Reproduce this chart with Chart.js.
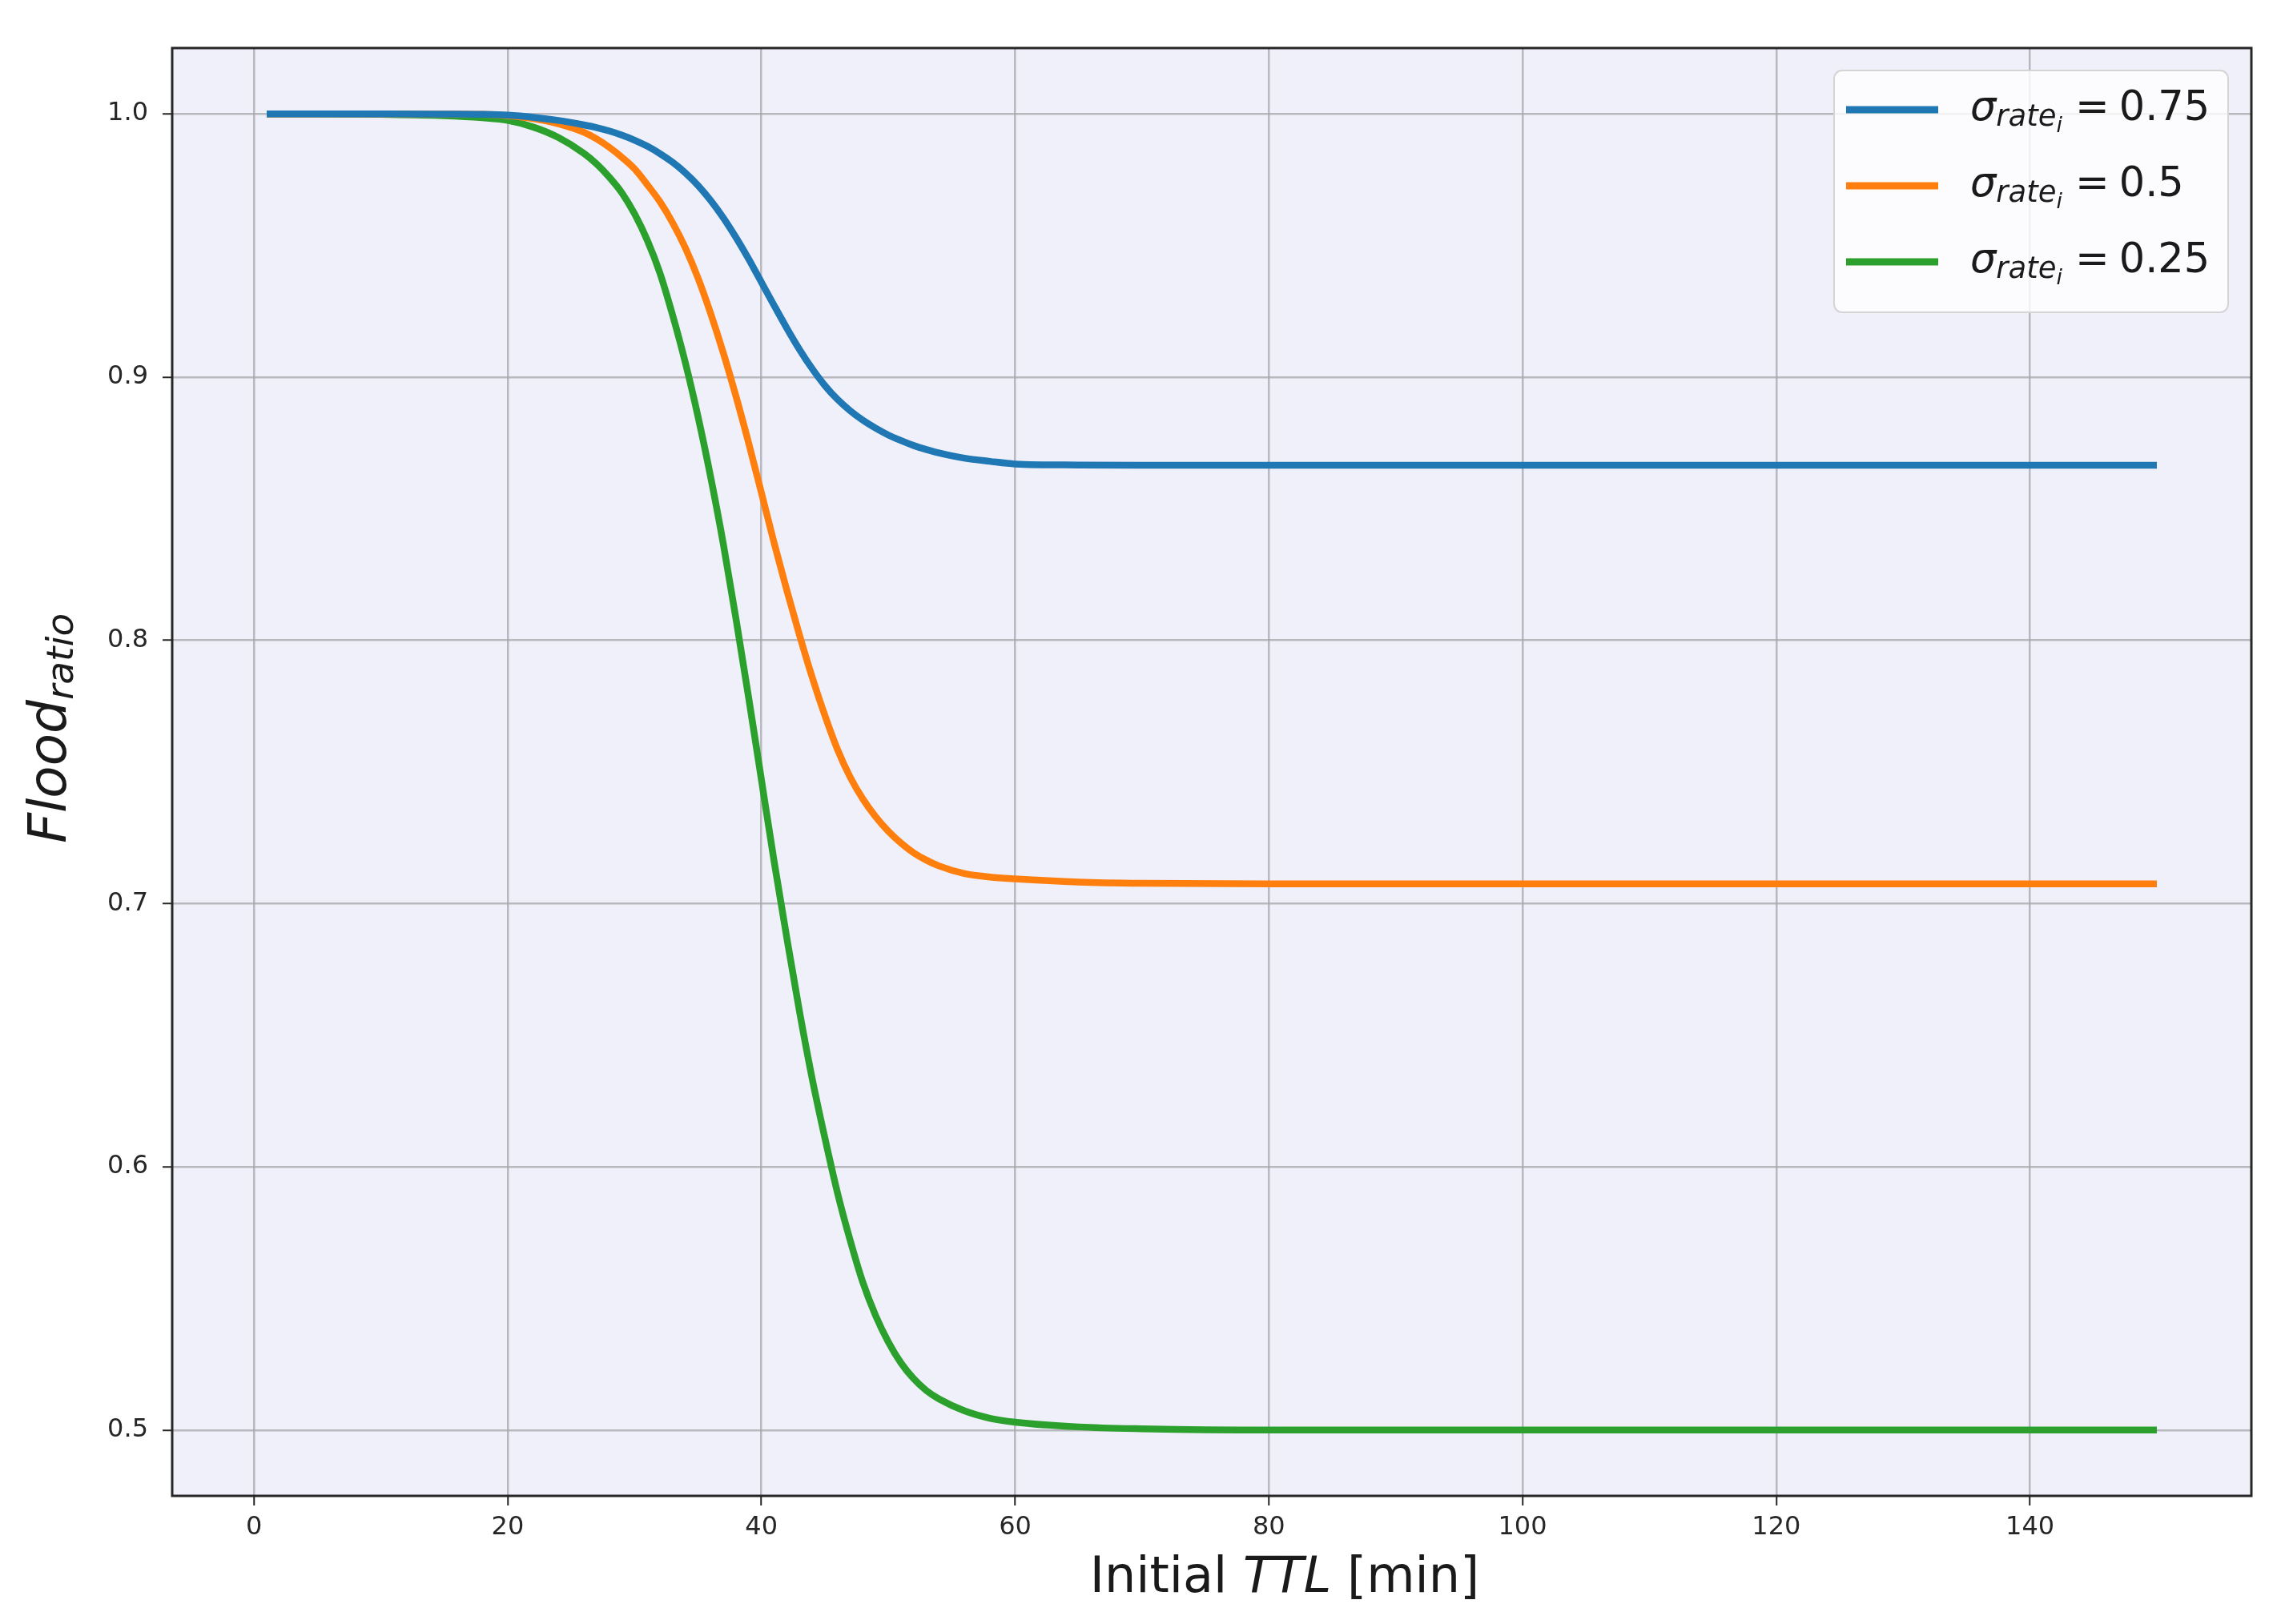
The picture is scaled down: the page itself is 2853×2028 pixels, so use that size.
<!DOCTYPE html>
<html>
<head>
<meta charset="utf-8">
<script src="https://cdn.jsdelivr.net/npm/chart.js@4.4.1/dist/chart.umd.min.js"></script>
<style>
  body { margin: 0; background: #ffffff; }
  canvas { display: block; }
</style>
</head>
<body>
<canvas id="chart" width="2853" height="2028"></canvas>
<script>
// Initial TTL [min]
const ttl = [1, 5, 10, 15, 18, 20, 22, 24, 26, 27,
             28, 29, 30, 31, 32, 33, 34, 35, 36, 37,
             38, 39, 40, 41, 42, 43, 44, 45, 46, 47,
             48, 49, 50, 51, 52, 53, 54, 56, 58, 60,
             65, 70, 80, 90, 100, 110, 120, 130, 140, 150];

// Flood ratio for each sigma
const sigma075 = [1.0, 1.0, 1.0, 0.9999, 0.9998, 0.9995, 0.9987, 0.9975, 0.9958, 0.9948,
                  0.9935, 0.9919, 0.990, 0.9877, 0.9849, 0.9816, 0.9776, 0.9728, 0.9671, 0.9605,
                  0.953, 0.9448, 0.936, 0.9272, 0.9186, 0.9105, 0.9032, 0.8968, 0.8915, 0.8872,
                  0.8836, 0.8806, 0.878, 0.8759, 0.874, 0.8725, 0.8712, 0.8692, 0.868, 0.867,
                  0.8666, 0.8665, 0.8665, 0.8665, 0.8665, 0.8665, 0.8665, 0.8665, 0.8665, 0.8665];
const sigma050 = [1.0, 1.0, 1.0, 0.9999, 0.9998, 0.9993, 0.9982, 0.9962, 0.993, 0.9905,
                  0.9873, 0.9835, 0.9791, 0.9731, 0.9666, 0.9586, 0.9491, 0.9376, 0.9241, 0.9091,
                  0.8926, 0.8748, 0.856, 0.837, 0.819, 0.802, 0.786, 0.7715, 0.7585, 0.748,
                  0.7397, 0.733, 0.7275, 0.723, 0.7193, 0.7165, 0.7143, 0.7114, 0.7101, 0.7094,
                  0.7082, 0.7077, 0.7075, 0.7075, 0.7075, 0.7075, 0.7075, 0.7075, 0.7075, 0.7075];
const sigma025 = [1.0, 1.0, 0.9998, 0.9993, 0.9985, 0.9975, 0.995, 0.991, 0.985, 0.981,
                  0.976, 0.970, 0.962, 0.952, 0.9395, 0.9235, 0.9055, 0.885, 0.862, 0.8365,
                  0.808, 0.778, 0.747, 0.716, 0.687, 0.659, 0.6335, 0.611, 0.590, 0.572,
                  0.556, 0.5435, 0.5335, 0.5255, 0.5195, 0.515, 0.5118, 0.5073, 0.5045, 0.503,
                  0.5012, 0.5005, 0.500, 0.500, 0.500, 0.500, 0.500, 0.500, 0.500, 0.500];

const sigmaLabels = ["0.75", "0.5", "0.25"];
const colors = ["#1f77b4", "#ff7f0e", "#2ca02c"];

const xTicks = [0, 20, 40, 60, 80, 100, 120, 140];
const yTicks = [0.5, 0.6, 0.7, 0.8, 0.9, 1.0];

const toPoints = values => ttl.map((x, i) => ({ x: x, y: values[i] }));

// draw runs of text with different fonts one after another
function drawRuns(ctx, runs, x, y) {
    runs.forEach(run => {
        ctx.font = run.font;
        ctx.fillText(run.text, x + (run.dx || 0), y + (run.dy || 0));
        x += ctx.measureText(run.text).width + (run.dx || 0) + (run.after || 0);
    });
    return x;
}

function runsWidth(ctx, runs) {
    let w = 0;
    runs.forEach(run => {
        ctx.font = run.font;
        w += ctx.measureText(run.text).width + (run.dx || 0) + (run.after || 0);
    });
    return w;
}

const decorations = {
    id: "decorations",
    beforeDraw(chart) {
        const { ctx, chartArea: a } = chart;
        ctx.save();
        ctx.fillStyle = "#f0f0fb";
        ctx.fillRect(a.left, a.top, a.right - a.left, a.bottom - a.top);
        ctx.restore();
    },
    afterDraw(chart) {
        const { ctx, chartArea: a } = chart;
        ctx.save();

        // frame
        ctx.strokeStyle = "#262626";
        ctx.lineWidth = 3;
        ctx.strokeRect(a.left, a.top, a.right - a.left, a.bottom - a.top);

        ctx.fillStyle = "#1a1a1a";
        ctx.textBaseline = "alphabetic";
        ctx.textAlign = "left";

        // x title
        const xRuns = [
            { text: "Initial ", font: "62px 'DejaVu Sans'" },
            { text: "TTL", font: "italic 62px 'DejaVu Sans'" },
            { text: " [min]", font: "62px 'DejaVu Sans'" }
        ];
        const xw = runsWidth(ctx, xRuns);
        drawRuns(ctx, xRuns, 1604 - xw / 2, 1988);

        // y title, rotated
        ctx.save();
        ctx.translate(82, 1053);
        ctx.rotate(-Math.PI / 2);
        drawRuns(ctx, [
            { text: "Flood", font: "italic 66px 'DejaVu Sans'" },
            { text: "ratio", font: "italic 47px 'DejaVu Sans'", dy: 9 }
        ], 0, 0);
        ctx.restore();

        // legend
        const lx = 2290, ly = 88, lw = 492, lh = 302;
        ctx.beginPath();
        ctx.roundRect(lx, ly, lw, lh, 10);
        ctx.fillStyle = "rgba(255,255,255,0.8)";
        ctx.fill();
        ctx.strokeStyle = "#d4d4d4";
        ctx.lineWidth = 2;
        ctx.stroke();

        chart.data.datasets.forEach((ds, i) => {
            const rowY = 137 + i * 95;
            ctx.beginPath();
            ctx.moveTo(2305, rowY);
            ctx.lineTo(2420, rowY);
            ctx.strokeStyle = ds.borderColor;
            ctx.lineWidth = 9;
            ctx.stroke();

            ctx.fillStyle = "#1a1a1a";
            drawRuns(ctx, [
                { text: "\u03c3", font: "italic 51px 'DejaVu Sans'" },
                { text: "rate", font: "italic 37px 'DejaVu Sans'", dy: 7 },
                { text: "i", font: "italic 27px 'DejaVu Sans'", dy: 15, after: 16 },
                { text: "=", font: "51px 'DejaVu Sans'", after: 12 },
                { text: sigmaLabels[i], font: "51px 'DejaVu Sans'" }
            ], 2460, rowY + 13);
        });

        ctx.restore();
    }
};

const tickFont = { family: "DejaVu Sans", size: 32 };
const gridStyle = {
    color: "rgba(165,165,170,0.75)",
    lineWidth: 2.5,
    tickLength: 12,
    tickColor: "#262626",
    tickWidth: 2
};

new Chart(document.getElementById("chart"), {
    type: "line",
    data: {
        datasets: [
            { label: "sigma 0.75", data: toPoints(sigma075), borderColor: colors[0] },
            { label: "sigma 0.5", data: toPoints(sigma050), borderColor: colors[1] },
            { label: "sigma 0.25", data: toPoints(sigma025), borderColor: colors[2] }
        ].map(ds => Object.assign(ds, {
            borderWidth: 8.5,
            pointRadius: 0,
            fill: false,
            cubicInterpolationMode: "monotone"
        }))
    },
    options: {
        responsive: false,
        devicePixelRatio: 1,
        animation: false,
        layout: { padding: { top: 60, right: 42, left: 0, bottom: 0 } },
        plugins: {
            legend: { display: false },
            tooltip: { enabled: false }
        },
        scales: {
            x: {
                type: "linear",
                min: -6.45,
                max: 157.45,
                afterBuildTicks: scale => { scale.ticks = xTicks.map(v => ({ value: v })); },
                afterFit: scale => { scale.height = 160; },
                ticks: {
                    font: tickFont,
                    color: "#262626",
                    padding: 8,
                    maxRotation: 0,
                    callback: v => String(v)
                },
                grid: gridStyle,
                border: { display: false }
            },
            y: {
                min: 0.475,
                max: 1.025,
                afterBuildTicks: scale => { scale.ticks = yTicks.map(v => ({ value: v })); },
                afterFit: scale => { scale.width = 215; },
                ticks: {
                    font: tickFont,
                    color: "#262626",
                    padding: 18,
                    callback: v => v.toFixed(1)
                },
                grid: gridStyle,
                border: { display: false }
            }
        }
    },
    plugins: [decorations]
});
</script>
</body>
</html>
